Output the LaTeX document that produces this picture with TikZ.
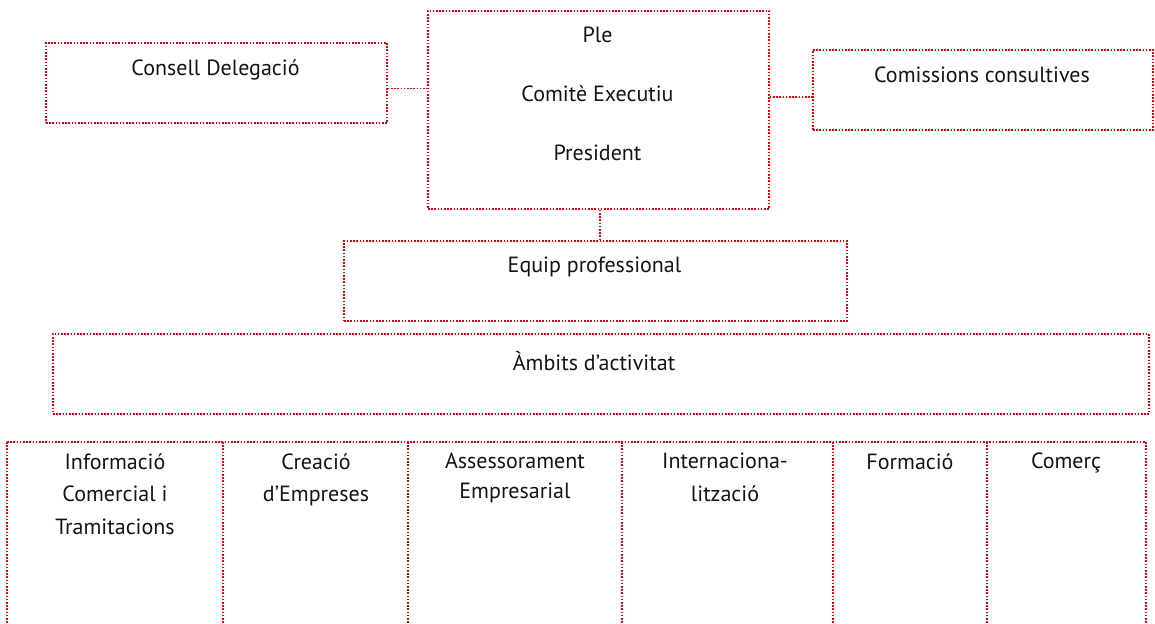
\documentclass[tikz,border=0pt]{standalone}
\usepackage{fontspec}
\setmainfont{PT Sans}
\definecolor{dotred}{RGB}{225,0,10}
\definecolor{txtc}{RGB}{20,20,20}
\begin{document}
\begin{tikzpicture}[x=1pt,y=1pt,
  dotline/.style={draw=dotred, line width=1.8pt, dash pattern=on 1.6pt off 1.6pt},
  box/.style={dotline, rectangle, inner sep=0pt, anchor=north west},
  txt/.style={text=txtc, font=\fontsize{22}{32.5}\selectfont, inner sep=0pt, align=center}]
\useasboundingbox (0,0) rectangle (1155,-623);

% boxes
\node[box, minimum width=341, minimum height=80] (consell) at (45,-42) {};
\node[box, minimum width=341, minimum height=198] (central) at (427,-10) {};
\node[box, minimum width=340, minimum height=80] (comis) at (812,-49) {};
\node[box, minimum width=503, minimum height=80] (equip) at (343,-240) {};
\node[box, minimum width=1096, minimum height=80] (ambits) at (52,-333) {};

% texts
\node[txt] (tconsell) at (215.5,-70) {Consell Delegació};
\node[txt] (tple) at (597.5,-35) {Ple};
\node[txt] (tcomite) at (597.5,-94) {Comitè Executiu};
\node[txt] (tpres) at (597.5,-153) {President};
\node[txt] (tcomis) at (982,-75) {Comissions consultives};
\node[txt] (tequip) at (594.5,-267) {Equip professional};
\node[txt] (tambits) at (594,-361) {Àmbits d’activitat};

% connectors
\draw[dotline] (consell.east |- 0,-88.5) -- (central.west |- 0,-88.5);
\draw[dotline] (central.east |- 0,-97) -- (comis.west |- 0,-97);
\draw[dotline] (central.south -| 600,0) -- (equip.north -| 600,0);

% columns
\coordinate (c0) at (7,-442);
\coordinate (c1) at (223,-442);
\coordinate (c2) at (408,-442);
\coordinate (c3) at (622,-442);
\coordinate (c4) at (833,-442);
\coordinate (c5) at (987,-442);
\coordinate (c6) at (1146,-442);
\draw[dotline] (c0) -- (c6);
\foreach \c in {c0,c1,c2,c3,c4,c5,c6}{
  \draw[dotline] (\c) -- (\c |- 0,-626);
}

\node[txt, anchor=north] (k1) at (115,-453) {Informació\\Comercial i\\Tramitacions};
\node[txt, anchor=north] (k2) at (316,-453) {Creació\\d’Empreses};
\node[txt, anchor=north, font=\fontsize{22}{29.5}\selectfont] (k3) at (515,-453) {Assessorament\\Empresarial};
\node[txt, anchor=north] (k4) at (725,-453) {Internaciona-\\lització};
\node[txt, anchor=north] (k5) at (910,-453) {Formació};
\node[txt, anchor=north] (k6) at (1066,-453) {Comerç};
\end{tikzpicture}
\end{document}
